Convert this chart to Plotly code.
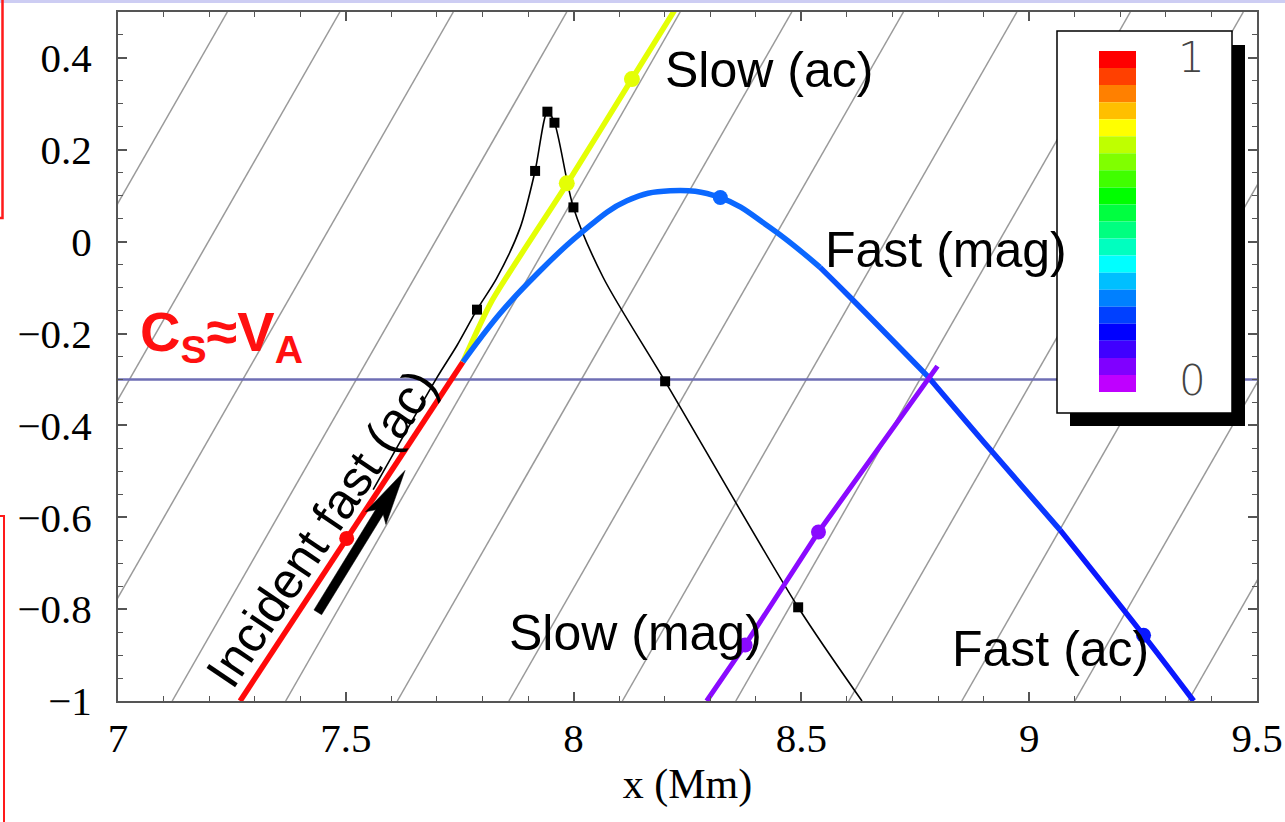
import math
import plotly.graph_objects as go

# ---- axes -------------------------------------------------------------
X_RANGE = [7.0, 9.5]
Y_RANGE = [-1.0, 0.5]
X_TICKS = [7, 7.5, 8, 8.5, 9, 9.5]
X_TICK_TEXT = ["7", "7.5", "8", "8.5", "9", "9.5"]
Y_TICKS = [-1, -0.8, -0.6, -0.4, -0.2, 0, 0.2, 0.4]
Y_TICK_TEXT = ["\u22121", "\u22120.8", "\u22120.6", "\u22120.4", "\u22120.2", "0", "0.2", "0.4"]

# ---- background magnetic field lines (x where each meets the top edge) --
FIELD_TOP_X = [7.24, 7.487, 7.736, 7.985, 8.234, 8.479, 8.724, 8.973,
               9.222, 9.470, 9.718, 9.966, 10.215]
FIELD_SLOPE = 1.732          # 60 degree inclination

# equipartition height c_s = v_A
CS_VA_LEVEL = -0.3

# ---- rays ---------------------------------------------------------------
INC_X = [7.268, 7.502, 7.757]
INC_Y = [-1.0, -0.646, -0.262]
INC_DOT_X = [7.502]
INC_DOT_Y = [-0.646]

SLOW_AC_X = [7.757, 7.82, 7.985, 8.128, 8.238]
SLOW_AC_Y = [-0.262, -0.13, 0.125, 0.354, 0.53]
SLOW_AC_DOT_X = [7.985, 8.128]
SLOW_AC_DOT_Y = [0.127, 0.354]

FAST_X = [7.757, 7.838, 7.912, 8.014, 8.117, 8.212, 8.322, 8.431,
          8.541, 8.607, 8.779, 8.914, 9.068, 9.251, 9.361]
FAST_Y = [-0.262, -0.157, -0.078, 0.017, 0.089, 0.111, 0.096, 0.031,
          -0.056, -0.121, -0.295, -0.452, -0.628, -0.857, -1.0]
# the ray colour follows the acoustic fraction along its path
FAST_SEGMENTS = [(0, 8, "#0b68ff"), (8, 10, "#0a55ff"),
                 (10, 12, "#0a38ff"), (12, 14, "#0a18ff")]
FAST_DOT_X = [8.322, 9.251]
FAST_DOT_Y = [0.096, -0.857]
FAST_DOT_COLORS = ["#0b66ff", "#0a18ff"]

SLOW_MAG_X = [8.292, 8.3765, 8.5375, 8.7987]
SLOW_MAG_Y = [-1.0, -0.878, -0.632, -0.271]
SLOW_MAG_DOT_X = [8.3765, 8.5375]
SLOW_MAG_DOT_Y = [-0.878, -0.632]

# wave path traced by the thin black curve
PATH_X = [7.56, 7.70, 7.744, 7.788, 7.831, 7.8826, 7.9155, 7.9425,
          7.958, 7.9996, 8.065, 8.2009, 8.4929, 8.633]
PATH_Y = [-0.54, -0.296, -0.226, -0.148, -0.08, 0.03, 0.154, 0.283,
          0.259, 0.0746, -0.078, -0.304, -0.796, -1.0]
PATH_MARK_X = [7.788, 7.9155, 7.9425, 7.958, 7.9996, 8.2009, 8.4929]
PATH_MARK_Y = [-0.148, 0.154, 0.283, 0.259, 0.0746, -0.304, -0.796]

ARROW_TAIL = (7.4385, -0.807)
ARROW_TIP = (7.63, -0.498)

# colour key (top = 1, bottom = 0)
KEY_COLORS = ["#ff0000", "#ff4000", "#ff8000", "#ffbf00", "#ffff00",
              "#bfff00", "#80ff00", "#40ff00", "#00ff00", "#00ff40",
              "#00ff80", "#00ffbf", "#00ffff", "#00bfff", "#0080ff",
              "#0040ff", "#0000ff", "#4000ff", "#8000ff", "#bf00ff"]

# ---- page geometry ------------------------------------------------------
W, H = 1285, 822
ML, MR, MT, MB = 118, 28, 12, 121
PW, PH = W - ML - MR, H - MT - MB
PX_PER_X = PW / (X_RANGE[1] - X_RANGE[0])
PX_PER_Y = PH / (Y_RANGE[1] - Y_RANGE[0])


def px_x(px):
    return (px - ML) / PW


def px_y(py):
    return (H - MB - py) / PH


SANS = "Liberation Sans, Arial, sans-serif"
SERIF = "Liberation Serif, Times New Roman, serif"

fig = go.Figure()

# field lines
fx, fy = [], []
for t in FIELD_TOP_X:
    drop = (Y_RANGE[1] - Y_RANGE[0]) / FIELD_SLOPE
    fx += [t - drop, t, None]
    fy += [Y_RANGE[0], Y_RANGE[1], None]
fig.add_trace(go.Scatter(x=fx, y=fy, mode="lines",
                         line=dict(color="#9a9a9a", width=1.5),
                         hoverinfo="skip"))

# c_s = v_A level
fig.add_trace(go.Scatter(x=X_RANGE, y=[CS_VA_LEVEL, CS_VA_LEVEL], mode="lines",
                         line=dict(color="#6e6eb4", width=2.5), hoverinfo="skip"))

# black wave path with markers
fig.add_trace(go.Scatter(x=PATH_X, y=PATH_Y, mode="lines",
                         line=dict(color="black", width=1.6, shape="spline",
                                   smoothing=0.8)))
fig.add_trace(go.Scatter(x=PATH_MARK_X, y=PATH_MARK_Y, mode="markers",
                         marker=dict(symbol="square", size=10, color="black")))

# rays
fig.add_trace(go.Scatter(x=INC_X, y=INC_Y, mode="lines",
                         line=dict(color="#ff0a0a", width=5.5)))
fig.add_trace(go.Scatter(x=SLOW_AC_X, y=SLOW_AC_Y, mode="lines",
                         line=dict(color="#e4ff05", width=5.5, shape="spline",
                                   smoothing=0.6)))
for i0, i1, col in FAST_SEGMENTS:
    fig.add_trace(go.Scatter(x=FAST_X[i0:i1 + 1], y=FAST_Y[i0:i1 + 1],
                             mode="lines",
                             line=dict(color=col, width=5.5, shape="spline",
                                       smoothing=1.2)))
fig.add_trace(go.Scatter(x=SLOW_MAG_X, y=SLOW_MAG_Y, mode="lines",
                         line=dict(color="#8a0aff", width=5)))

# dots
fig.add_trace(go.Scatter(x=INC_DOT_X, y=INC_DOT_Y, mode="markers",
                         marker=dict(size=15, color="#ff0a0a")))
fig.add_trace(go.Scatter(x=SLOW_AC_DOT_X, y=SLOW_AC_DOT_Y, mode="markers",
                         marker=dict(size=16, color="#e4ff05")))
fig.add_trace(go.Scatter(x=FAST_DOT_X, y=FAST_DOT_Y, mode="markers",
                         marker=dict(size=15, color=FAST_DOT_COLORS)))
fig.add_trace(go.Scatter(x=SLOW_MAG_DOT_X, y=SLOW_MAG_DOT_Y, mode="markers",
                         marker=dict(size=15, color="#8a0aff")))

# direction arrow, built in pixel space so the head keeps its shape
dxp = (ARROW_TIP[0] - ARROW_TAIL[0]) * PX_PER_X
dyp = (ARROW_TIP[1] - ARROW_TAIL[1]) * PX_PER_Y
L = math.hypot(dxp, dyp)
ux, uy = dxp / L, dyp / L
nx, ny = -uy, ux
HEAD_LEN, HEAD_HALF, SHAFT_HALF, NOTCH = 56, 12, 4.5, 7


def pt(along, side):
    px_ = ux * along + nx * side
    py_ = uy * along + ny * side
    return (ARROW_TAIL[0] + px_ / PX_PER_X, ARROW_TAIL[1] + py_ / PX_PER_Y)


base = L - HEAD_LEN
poly = [pt(0, -SHAFT_HALF), pt(base + NOTCH, -SHAFT_HALF), pt(base, -HEAD_HALF),
        pt(L, 0), pt(base, HEAD_HALF), pt(base + NOTCH, SHAFT_HALF),
        pt(0, SHAFT_HALF), pt(0, -SHAFT_HALF)]
fig.add_trace(go.Scatter(x=[p[0] for p in poly], y=[p[1] for p in poly],
                         mode="lines", fill="toself", fillcolor="black",
                         line=dict(color="black", width=0.5)))

# ---- labels -------------------------------------------------------------
labels = [
    ("Slow (ac)", 8.428, 0.373, 0),
    ("Fast (mag)", 8.818, -0.018, 0),
    ("Slow (mag)", 8.135, -0.851, 0),
    ("Fast (ac)", 9.046, -0.887, 0),
    ("Incident fast (ac)", 7.448, -0.624, -56),
]
for text, x, y, ang in labels:
    fig.add_annotation(x=x, y=y, text=text, showarrow=False, textangle=ang,
                       xanchor="center", yanchor="middle",
                       font=dict(family=SANS, size=50, color="black"))

fig.add_annotation(x=7.044, y=-0.205, xanchor="left", yanchor="middle",
                   text="<b>C<sub>S</sub>\u2248V<sub>A</sub></b>", showarrow=False,
                   font=dict(family=SANS, size=56, color="#ff1010"))

# ---- colour key box -----------------------------------------------------
shapes = []
shapes.append(dict(type="rect", xref="paper", yref="paper", layer="above",
                   x0=px_x(1070), x1=px_x(1245), y0=px_y(426), y1=px_y(45),
                   fillcolor="black", line=dict(width=0)))
shapes.append(dict(type="rect", xref="paper", yref="paper", layer="above",
                   x0=px_x(1057), x1=px_x(1232), y0=px_y(413), y1=px_y(31),
                   fillcolor="white", line=dict(color="black", width=1.5)))
top, bot = 51, 392
step = (bot - top) / len(KEY_COLORS)
for k, col in enumerate(KEY_COLORS):
    shapes.append(dict(type="rect", xref="paper", yref="paper", layer="above",
                       x0=px_x(1099), x1=px_x(1136),
                       y0=px_y(top + (k + 1) * step), y1=px_y(top + k * step),
                       fillcolor=col, line=dict(width=0)))

fig.add_annotation(xref="paper", yref="paper", x=px_x(1191), y=px_y(57),
                   text="1", showarrow=False, xanchor="center", yanchor="middle",
                   font=dict(family="DejaVu Sans, sans-serif", size=42,
                             color="#444444", weight=200))
fig.add_annotation(xref="paper", yref="paper", x=px_x(1192), y=px_y(380),
                   text="0", showarrow=False, xanchor="center", yanchor="middle",
                   font=dict(family="DejaVu Sans, sans-serif", size=42,
                             color="#444444", weight=200))

# ---- page trim ------------------------------------------------------------
shapes.append(dict(type="rect", xref="paper", yref="paper", layer="above",
                   x0=px_x(0), x1=px_x(W), y0=px_y(3), y1=px_y(0),
                   fillcolor="#cdcdf3", line=dict(width=0)))
shapes.append(dict(type="path", xref="paper", yref="paper", layer="above",
                   path=f"M {px_x(2.5)} {px_y(0)} L {px_x(2.5)} {px_y(218)} L {px_x(0)} {px_y(218)}",
                   line=dict(color="#ff1a1a", width=2.5)))
shapes.append(dict(type="path", xref="paper", yref="paper", layer="above",
                   path=f"M {px_x(0)} {px_y(516)} L {px_x(4)} {px_y(516)} L {px_x(4)} {px_y(H)}",
                   line=dict(color="#ff1a1a", width=2)))

axis_common = dict(showgrid=False, zeroline=False, showline=True,
                   linecolor="#555555", linewidth=2, mirror="allticks",
                   ticks="inside", ticklen=9, tickwidth=1.5, tickcolor="#555555",
                   automargin=False,
                   tickfont=dict(family=SERIF, size=41, color="black"))

fig.update_layout(
    width=W, height=H, margin=dict(l=ML, r=MR, t=MT, b=MB),
    paper_bgcolor="white", plot_bgcolor="white", showlegend=False,
    shapes=shapes,
    xaxis=dict(range=X_RANGE, tickmode="array", tickvals=X_TICKS,
               ticktext=X_TICK_TEXT, ticklabelstandoff=0,
               minor=dict(ticks="inside", tickmode="linear", tick0=7, dtick=0.1,
                          ticklen=5, tickwidth=1.2, tickcolor="#555555"),
               title=dict(text="x (Mm)", standoff=8,
                          font=dict(family=SERIF, size=42, color="black")),
               **axis_common),
    yaxis=dict(range=Y_RANGE, tickmode="array", tickvals=Y_TICKS,
               ticktext=Y_TICK_TEXT, ticklabelstandoff=16,
               minor=dict(ticks="inside", tickmode="linear", tick0=0, dtick=0.05,
                          ticklen=5, tickwidth=1.2, tickcolor="#555555"),
               **axis_common),
)

fig.write_html("out.html")
